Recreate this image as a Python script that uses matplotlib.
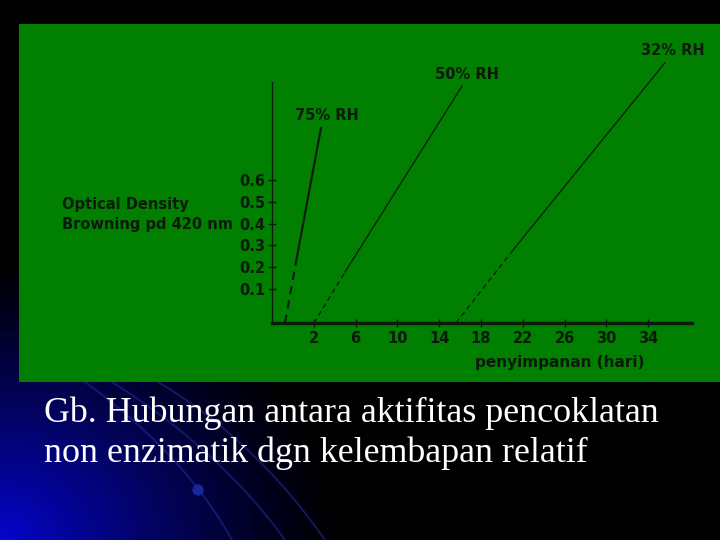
import numpy as np
import matplotlib
matplotlib.use("Agg")
import matplotlib.pyplot as plt
from matplotlib.patches import Rectangle, Circle

# ---------------- data ----------------
days_75 = [-0.77, 0.29, 2.68]      # start (extrapolated), dashed->solid, end
od_75 = [-0.056, 0.224, 0.839]
days_50 = [2.01, 4.98, 16.19]
od_50 = [-0.056, 0.178, 1.031]
days_32 = [15.6, 21.07, 35.6]
od_32 = [-0.056, 0.279, 1.137]
series_labels = ["75% RH", "50% RH", "32% RH"]
x_ticks = [2, 6, 10, 14, 18, 22, 26, 30, 34]
y_ticks = [0.1, 0.2, 0.3, 0.4, 0.5, 0.6]
y_tick_labels = ["0.1", "0.2", "0.3", "0.4", "0.5", "0.6"]
ylabel_lines = ["Optical Density", "Browning pd 420 nm"]
xlabel = "penyimpanan (hari)"
caption = ["Gb. Hubungan antara aktifitas pencoklatan",
           "non enzimatik dgn kelembapan relatif"]

W, H = 720, 540
fig = plt.figure(figsize=(7.2, 5.4), dpi=100)
fig.patch.set_facecolor("black")

# ---------------- background (slide) ----------------
bg = fig.add_axes([0, 0, 1, 1])
bg.set_xlim(0, W)
bg.set_ylim(H, 0)
bg.axis("off")
yy, xx = np.mgrid[0:H, 0:W]
d = np.sqrt((xx / 1.0) ** 2 + ((H - yy) * 1.2) ** 2)
t = np.clip(1 - d / 340.0, 0, 1) ** 1.2
img = np.zeros((H, W, 3))
img[..., 0] = 0.02 * t
img[..., 1] = 0.02 * t
img[..., 2] = 0.80 * t
bg.imshow(img, extent=(0, W, H, 0), aspect="auto", zorder=0)
for (p0, p1, p2) in [((85, 382), (185, 455), (232, 540)),
                     ((112, 382), (220, 450), (285, 540)),
                     ((158, 382), (255, 440), (325, 540))]:
    s = np.linspace(0, 1, 100)
    bx = (1 - s) ** 2 * p0[0] + 2 * (1 - s) * s * p1[0] + s ** 2 * p2[0]
    by = (1 - s) ** 2 * p0[1] + 2 * (1 - s) * s * p1[1] + s ** 2 * p2[1]
    bg.plot(bx, by, color=(0.10, 0.14, 0.50), lw=1.4, alpha=0.7, zorder=1)
bg.add_patch(Circle((198, 490), 5, color=(0.1, 0.15, 0.6), zorder=2))

# green panel
bg.add_patch(Rectangle((19, 24), W - 19, 382 - 24, facecolor="#007f00",
                       edgecolor="none", zorder=3))

# caption
for i, line in enumerate(caption):
    bg.text(44, 413 + 40 * i, line, color="white", fontsize=25.8,
            family="Liberation Serif", va="center", ha="left", zorder=4)

# ---------------- chart ----------------
FONT = "DejaVu Sans"
x0_px, x1_px = 272, 692
yb_px, yt_px = 323, 40
ax = fig.add_axes([x0_px / W, 1 - yb_px / H, (x1_px - x0_px) / W,
                   (yb_px - yt_px) / H])
ax.set_facecolor("none")
ax.set_xlim(-2.01, 38.2)
ax.set_ylim(-0.056, 1.242)
for sp in ["top", "right"]:
    ax.spines[sp].set_visible(False)
ax.spines["left"].set_bounds(-0.056, 1.05)
ax.spines["left"].set_linewidth(1.0)
ax.spines["bottom"].set_linewidth(2.4)
ink = "#0b1a0b"
ax.spines["left"].set_color(ink)
ax.spines["bottom"].set_color(ink)

ax.set_xticks(x_ticks)
ax.set_xticklabels([str(v) for v in x_ticks])
ax.set_yticks(y_ticks)
ax.set_yticklabels(y_tick_labels)
ax.tick_params(axis="both", direction="inout", length=6, width=1,
               color=ink, labelcolor=ink, labelsize=10.5)
ax.tick_params(axis="x", pad=3)
ax.tick_params(axis="y", pad=2)
for lab in ax.get_xticklabels() + ax.get_yticklabels():
    lab.set_fontweight("bold")
    lab.set_family(FONT)

series = [(days_75, od_75, 1.5), (days_50, od_50, 0.9), (days_32, od_32, 0.9)]
for (xs, ys, lw) in series:
    ax.plot(xs[:2], ys[:2], color=ink, lw=lw, ls=(0, (4, 3)))
    ax.plot(xs[1:], ys[1:], color=ink, lw=lw, ls="-")

label_pos = [(0.19, 0.898), (13.6, 1.086), (33.3, 1.192)]
for (lx, ly), txt in zip(label_pos, series_labels):
    ax.text(lx, ly, txt, color=ink, fontsize=10.5, fontweight="bold",
            family=FONT, ha="left", va="center")

ax.text(0.686, -0.141, xlabel, transform=ax.transAxes, color=ink,
        fontsize=11, fontweight="bold", family=FONT,
        ha="center", va="center")

# y label (left of the axis)
for i, line in enumerate(ylabel_lines):
    bg.text(62, 205 + 20 * i, line, color=ink, fontsize=10.5,
            fontweight="bold", family=FONT, ha="left",
            va="center", zorder=5)

fig.savefig("out.png", dpi=100, facecolor=fig.get_facecolor())
